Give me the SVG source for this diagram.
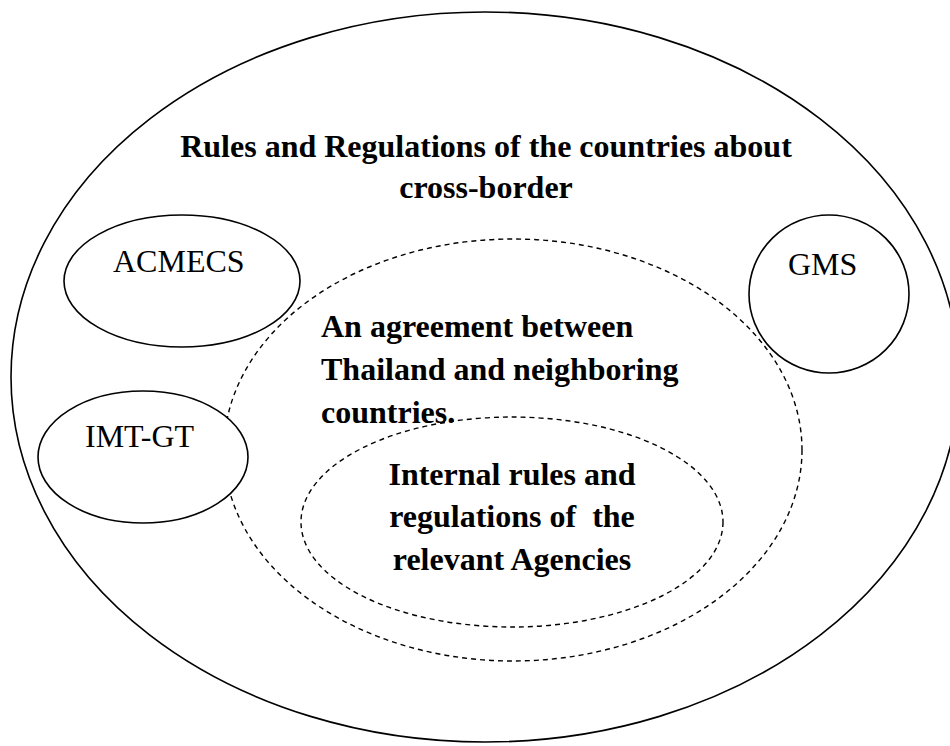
<svg xmlns="http://www.w3.org/2000/svg" width="950" height="746" viewBox="0 0 950 746">
<style>
.solid{fill:none;stroke:#000;stroke-width:1.6}
.filled{fill:#fff;stroke:#000;stroke-width:1.6}
.dash{fill:none;stroke:#000;stroke-width:1.4;stroke-dasharray:5 4}
.b{font-family:"Liberation Serif","Times New Roman",serif;font-weight:bold;font-size:32px;fill:#000}
.r{font-family:"Liberation Serif","Times New Roman",serif;font-size:32px;fill:#000}
</style>
<rect width="950" height="746" fill="#fff"/>
<g id="outer">
<ellipse class="solid" cx="485" cy="377" rx="474" ry="365"/>
<text class="b" x="486" y="157" text-anchor="middle">Rules and Regulations of the countries about</text>
<text class="b" x="486" y="198" text-anchor="middle">cross-border</text>
</g>
<g id="agreement">
<ellipse class="dash" cx="513" cy="450" rx="289" ry="211"/>
<text class="b" x="321" y="337">An agreement between</text>
<text class="b" x="321" y="380">Thailand and neighboring</text>
<text class="b" x="321" y="423">countries.</text>
</g>
<g id="internal">
<ellipse class="dash" cx="512" cy="522" rx="211" ry="105"/>
<text class="b" x="512" y="485" text-anchor="middle">Internal rules and</text>
<text class="b" x="512" y="527" text-anchor="middle" xml:space="preserve">regulations of  the</text>
<text class="b" x="512" y="570" text-anchor="middle">relevant Agencies</text>
</g>
<g id="acmecs">
<ellipse class="filled" cx="182" cy="281" rx="118" ry="66"/>
<text class="r" x="113" y="272">ACMECS</text>
</g>
<g id="imtgt">
<ellipse class="filled" cx="143" cy="457" rx="105" ry="66"/>
<text class="r" x="85" y="447">IMT-GT</text>
</g>
<g id="gms">
<ellipse class="filled" cx="829" cy="294" rx="80" ry="79"/>
<text class="r" x="788" y="275">GMS</text>
</g>
<g id="connectors"/>
</svg>
